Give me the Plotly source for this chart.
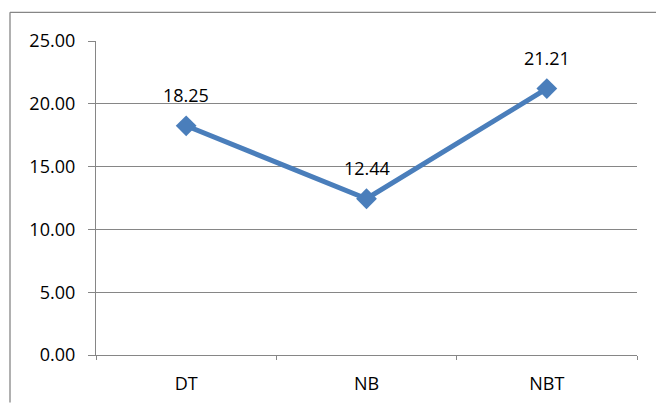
import plotly.graph_objects as go

categories = ["DT", "NB", "NBT"]
values = [18.25, 12.44, 21.21]
labels = ["18.25", "12.44", "21.21"]
y_ticks = [0, 5, 10, 15, 20, 25]
y_ticklabels = ["0.00", "5.00", "10.00", "15.00", "20.00", "25.00"]

W, H = 657, 407
L, R, T, B = 96, 20, 41, 48
pw = W - L - R
ph = H - T - B

line_color = "#4A7EBB"
grid_color = "#868686"
font = dict(family="Open Sans, Liberation Sans, sans-serif", size=18, color="#000000")


def px_x(p):
    return (p - L) / pw


def px_y(p):
    return (H - B - p) / ph


fig = go.Figure()
fig.add_trace(go.Scatter(
    x=categories, y=values, mode="lines+markers",
    line=dict(color=line_color, width=5),
    marker=dict(symbol="diamond", size=16, color=line_color),
    hoverinfo="skip", showlegend=False,
))

for c, v, t in zip(categories, values, labels):
    fig.add_annotation(x=c, y=v, text=t, showarrow=False, yanchor="middle",
                       yshift=31, font=font)

# outer chart border (left and top edges visible in the crop)
border = dict(color=grid_color, width=1.3)
fig.add_shape(type="line", xref="paper", yref="paper",
              x0=px_x(10), x1=px_x(10), y0=px_y(12), y1=px_y(H), line=border)
fig.add_shape(type="line", xref="paper", yref="paper",
              x0=px_x(10), x1=px_x(W - 1), y0=px_y(12), y1=px_y(12), line=border)

fig.update_layout(
    width=W, height=H,
    margin=dict(l=L, r=R, t=T, b=B),
    paper_bgcolor="white", plot_bgcolor="white",
    font=font,
    xaxis=dict(
        type="category", range=[-0.5, 2.5], tickson="boundaries",
        showgrid=False, showline=True, linecolor=grid_color, linewidth=1.3,
        ticks="outside", ticklen=4, tickcolor=grid_color, tickwidth=1.3,
        tickfont=font, zeroline=False, ticklabelstandoff=12,
    ),
    yaxis=dict(
        range=[0, 25], tickvals=y_ticks, ticktext=y_ticklabels,
        showgrid=True, gridcolor=grid_color, gridwidth=1,
        showline=True, linecolor=grid_color, linewidth=1.3,
        ticks="outside", ticklen=7, tickcolor=grid_color, tickwidth=1.3,
        tickfont=font, zeroline=False, ticklabelstandoff=9,
    ),
)

fig.write_html("out.html")
